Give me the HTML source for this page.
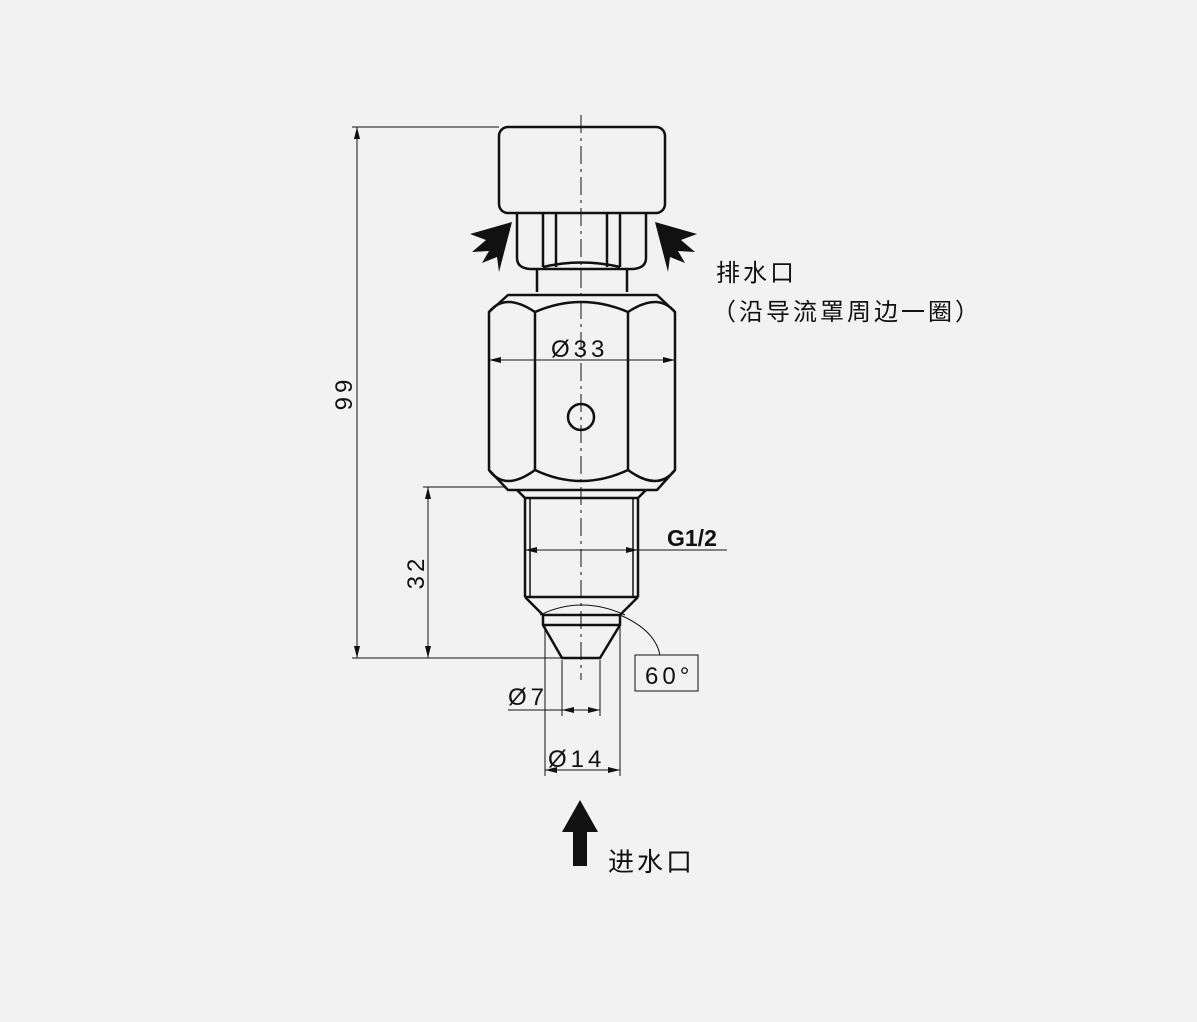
<!DOCTYPE html>
<html><head><meta charset="utf-8"><style>
html,body{margin:0;padding:0;background:#f2f2f2;}
svg{display:block}
text{font-family:"Liberation Sans","Noto Sans CJK SC",sans-serif;fill:#111}
</style></head><body>
<svg width="1197" height="1022" viewBox="0 0 1197 1022" xmlns="http://www.w3.org/2000/svg">
<rect width="1197" height="1022" fill="#f2f2f2"/>
<g fill="none" stroke="#111" stroke-width="1">
 <line x1="352" y1="127" x2="499" y2="127"/>
 <line x1="352" y1="658" x2="562" y2="658"/>
 <line x1="357" y1="127" x2="357" y2="658"/>
 <line x1="423" y1="487" x2="505" y2="487"/>
 <line x1="428" y1="487" x2="428" y2="658"/>
 <line x1="489" y1="360" x2="675" y2="360"/>
 <line x1="525" y1="550" x2="727" y2="550"/>
 <line x1="562" y1="660" x2="562" y2="716"/>
 <line x1="600" y1="660" x2="600" y2="716"/>
 <line x1="508" y1="710" x2="600" y2="710"/>
 <line x1="545" y1="625" x2="545" y2="776"/>
 <line x1="620" y1="615" x2="620" y2="776"/>
 <line x1="545" y1="770" x2="620" y2="770"/>
 <path d="M540 615 Q581 595 625 615"/>
 <path d="M620 615 Q655 630 660 655"/>
 <rect x="635" y="655" width="63" height="36"/>
 <line x1="581" y1="115" x2="581" y2="680" stroke-dasharray="18,5,3,5"/>
</g>
<g fill="#111">
 <path d="M357 127 l-3 12 h6z"/><path d="M357 658 l-3 -12 h6z"/>
 <path d="M428 487 l-3 12 h6z"/><path d="M428 658 l-3 -12 h6z"/>
 <path d="M489 360 l12 -3 v6z"/><path d="M675 360 l-12 -3 v6z"/>
 <path d="M525 550 l12 -3 v6z"/><path d="M638 550 l-12 -3 v6z"/>
 <path d="M562 710 l12 -3 v6z"/><path d="M600 710 l-12 -3 v6z"/>
 <path d="M545 770 l12 -3 v6z"/><path d="M620 770 l-12 -3 v6z"/>
 <path d="M512 222 L470 234 L486 240 L472 252 L489 251 L482 263 L497 257 L499 272Z"/>
 <path d="M655 222 L697 234 L681 240 L695 252 L678 251 L685 263 L670 257 L668 272Z"/>
 <path d="M580 800 L562 832 H573 V866 H587 V832 H598Z"/>
</g>
<g fill="none" stroke="#111" stroke-width="2.5" stroke-linejoin="round">
 <rect x="499" y="127" width="166" height="86" rx="9"/>
 <path d="M517 213 V258 Q517 268 530 269 H633 Q646 268 646 258 V213"/>
 <path d="M543 213 V267 M556 213 V267 M607 213 V267 M620 213 V267"/>
 <path d="M543 267 Q581 258 620 267"/>
 <path d="M537 270 V292 M627 270 V292"/>
 <path d="M489 312 L508 295 H657 L675 312 V470 L657 490 H508 L489 470Z"/>
 <path d="M535 312 V470 M628 312 V470"/>
 <path d="M535 312 Q581 292 628 312 M535 470 Q581 492 628 470"/>
 <path d="M489 312 Q505 292 535 312 M628 312 Q658 292 675 312"/>
 <path d="M489 470 Q505 492 535 470 M628 470 Q658 492 675 470"/>
 <circle cx="581" cy="417" r="13"/>
 <path d="M517 490 L525 498 V597 M646 490 L638 498 V597"/>
 <path d="M525 498 H638"/>
 <path d="M525 597 H638"/>
 <path d="M525 597 L543 615 H620 L638 597"/>
 <path d="M543 615 V625 H620 V615"/>
 <path d="M543 625 L562 658 H600 L620 625"/>
</g>
<g stroke="#111" stroke-width="1.5"><line x1="530" y1="498" x2="530" y2="597"/><line x1="633" y1="498" x2="633" y2="597"/></g>
<g font-size="24" letter-spacing="4">
 <text x="551" y="357">Ø33</text>
 <text x="508" y="705">Ø7</text>
 <text x="548" y="767">Ø14</text>
 <text x="645" y="684">60°</text>
 <text transform="translate(352,393) rotate(-90)" text-anchor="middle">99</text>
 <text transform="translate(424,572) rotate(-90)" text-anchor="middle">32</text>
</g>
<text x="667" y="546" font-size="23" font-weight="bold">G1/2</text>
<text x="716" y="281" font-size="24" letter-spacing="3">排水口</text>
<text x="712" y="320" font-size="24" letter-spacing="3">（沿导流罩周边一圈）</text>
<text x="608" y="871" font-size="26" letter-spacing="3">进水口</text>
</svg>
</body></html>
